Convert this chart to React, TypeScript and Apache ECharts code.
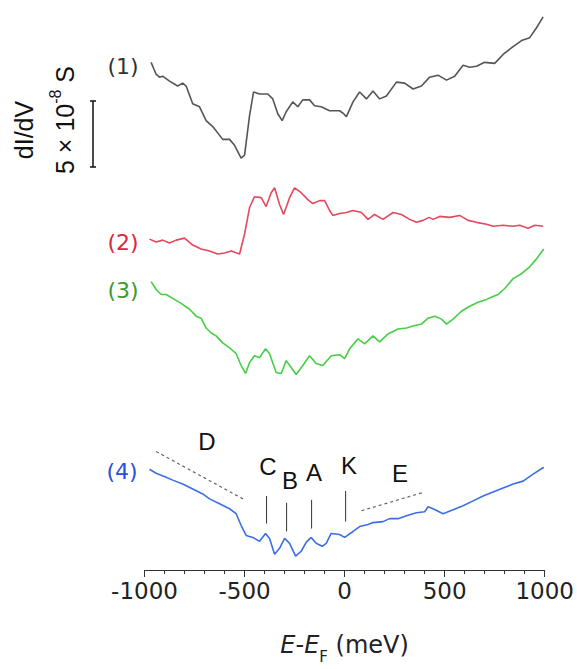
import React, { useEffect, useRef } from "react";
import * as echarts from "echarts";

// Energies (meV) and dI/dV (a.u., vertically offset for each spectrum)
const energy1 = [-967,-942,-925,-909,-875,-834,-809,-792,-759,-725,-692,-659,-609,-575,-550,-517,-500,-475,-455,-425,-384,-359,-334,-312,-292,-259,-234,-209,-175,-150,-117,-75,-25,-5,9,42,75,109,142,175,209,259,300,342,384,425,467,509,550,592,625,659,700,750,792,842,884,925,959,992];
const didv1 = [514,502,499,500,495,490,493,490,472,469,455,449,436,436,430,417,420,460,484,482,482,477,462,455,464,474,469,476,476,470,469,465,465,462,459,474,484,477,485,477,480,494,493,487,490,499,501,496,500,511,509,510,514,513,522,530,536,539,549,560];

const energy2 = [-975,-942,-909,-875,-842,-800,-759,-717,-675,-634,-600,-567,-525,-500,-475,-450,-417,-392,-367,-350,-325,-305,-275,-250,-217,-184,-159,-125,-100,-75,-59,-25,9,42,84,117,150,192,242,284,325,359,392,422,442,475,525,575,617,659,709,742,792,842,875,917,950,992];
const didv2 = [335,332,334,331,334,336,329,325,323,320,321,323,320,340,367,378,377,368,382,387,370,360,377,387,382,375,371,374,374,364,359,361,362,364,362,355,360,355,362,360,355,352,354,357,355,358,357,359,354,352,350,348,349,348,349,346,349,348];

const energy3 = [-967,-942,-917,-892,-859,-817,-775,-742,-717,-692,-667,-642,-609,-575,-542,-517,-495,-475,-450,-425,-395,-375,-342,-317,-292,-267,-242,-209,-175,-142,-109,-67,-25,0,25,67,100,142,175,217,267,309,342,384,417,450,484,509,542,584,625,667,709,742,767,800,842,884,925,959,995];
const didv3 = [292,284,279,279,275,270,264,257,255,245,240,237,230,225,219,207,199,210,217,215,224,219,200,199,212,205,198,207,217,209,207,217,218,214,224,234,229,237,231,239,244,245,247,249,255,257,254,249,254,262,267,271,274,277,279,285,295,300,307,315,325];

const energy4 = [-975,-942,-892,-859,-809,-759,-709,-675,-625,-575,-542,-517,-492,-459,-425,-395,-375,-350,-325,-300,-275,-245,-217,-192,-167,-142,-112,-92,-67,-25,0,42,75,117,142,192,225,267,309,359,400,417,442,492,542,592,642,692,742,792,842,892,942,995];
const didv4 = [102,98,94,91,87,82,77,72,67,62,57,45,35,33,29,37,32,16,22,32,27,14,19,28,33,27,24,27,37,36,33,39,44,46,48,49,52,52,55,58,59,64,62,57,61,65,70,75,79,83,87,90,97,104];

// Background slope guides D and E (dotted)
const guideD = [[-942, 120], [-508, 72]];
const guideE = [[84, 60], [400, 79]];

// Peak markers (energy, bottom, top)
const markerNames = ["C", "B", "A", "K"];
const markerEnergy = [-390, -290, -165, 5];
const markerBottom = [47, 39, 42, 49];
const markerTop = [75, 68, 71, 80];

const xTicks = [-1000, -500, 0, 500, 1000];

const curveColors = ["#555555", "#e5475d", "#45cf45", "#3b6fe2"];
const labelColors = ["#333333", "#d9283e", "#3e9a2c", "#2b4fd6"];

export default function App() {
  const ref = useRef<HTMLDivElement>(null);
  useEffect(() => {
    if (!ref.current) return;
    const chart = echarts.init(ref.current, undefined, { renderer: "svg" });
    const curves = [
      [energy1, didv1],
      [energy2, didv2],
      [energy3, didv3],
      [energy4, didv4],
    ];
    const series: any[] = curves.map(([e, v], k) => ({
      type: "line",
      data: e.map((x, i) => [x, v[i]]),
      showSymbol: false,
      lineStyle: { color: curveColors[k], width: 1.6 },
      silent: true,
    }));
    [guideD, guideE].forEach((g) =>
      series.push({
        type: "line",
        data: g,
        showSymbol: false,
        lineStyle: { color: "#666", width: 1.2, type: [3, 3] },
        silent: true,
      })
    );
    markerEnergy.forEach((e, i) =>
      series.push({
        type: "line",
        name: markerNames[i],
        data: [
          [e, markerBottom[i]],
          [e, markerTop[i]],
        ],
        showSymbol: false,
        lineStyle: { color: "#333", width: 1 },
        silent: true,
      })
    );
    const letterFont = { fontFamily: "Liberation Sans, Arial, sans-serif", fontSize: 24, fill: "#111" };
    const letters = [
      ["D", 207, 441],
      ["C", 268, 466],
      ["B", 290, 480],
      ["A", 314, 472],
      ["K", 349, 465],
      ["E", 400, 473],
    ];
    const curveLabels = [
      ["(1)", 123, 66],
      ["(2)", 123, 242],
      ["(3)", 123, 290],
      ["(4)", 122, 471],
    ];
    const font = "DejaVu Sans, sans-serif";
    chart.setOption({
      animation: false,
      grid: { left: 144.5, right: 32, top: 10, bottom: 92 },
      xAxis: {
        type: "value",
        min: -1000,
        max: 1000,
        interval: 500,
        axisLine: { lineStyle: { color: "#333", width: 1 } },
        axisTick: { show: true, length: 7, lineStyle: { color: "#333" } },
        minorTick: { show: true, splitNumber: 5, length: 4, lineStyle: { color: "#333" } },
        splitLine: { show: false },
        axisLabel: {
          margin: 9,
          fontSize: 23,
          fontFamily: font,
          color: "#222",
          formatter: (v: number) => (xTicks.includes(v) ? String(v) : ""),
        },
        name: "{i|E}{n|-}{i|E}{sub|F}{n| (meV)}",
        nameLocation: "middle",
        nameGap: 60,
        nameTextStyle: {
          rich: {
            i: { fontSize: 24, fontStyle: "italic", fontFamily: font, color: "#222", lineHeight: 30 },
            n: { fontSize: 24, fontFamily: font, color: "#222", lineHeight: 30 },
            sub: { fontSize: 15, fontFamily: font, color: "#222", verticalAlign: "bottom", lineHeight: 15, padding: [0, 0, -4, 0] },
          },
        },
      },
      yAxis: { type: "value", min: 0, max: 567, show: false },
      series,
      graphic: [
        ...curveLabels.map(([t, x, y], k) => ({
          type: "text",
          x,
          y,
          style: {
            text: t,
            fontFamily: font,
            fontSize: 22,
            fill: labelColors[k],
            align: "center",
            verticalAlign: "middle",
          },
        })),
        ...letters.map(([t, x, y]) => ({
          type: "text",
          x,
          y,
          style: { text: t, ...letterFont, align: "center", verticalAlign: "middle" },
        })),
        {
          type: "text",
          x: 24,
          y: 130,
          rotation: Math.PI / 2,
          style: {
            text: "dI/dV",
            fontFamily: "Liberation Sans, Arial, sans-serif",
            fontSize: 25,
            fill: "#111",
            align: "center",
            verticalAlign: "middle",
          },
        },
        {
          type: "text",
          x: 62,
          y: 120,
          rotation: Math.PI / 2,
          style: {
            text: "{n|5 × 10}{sup|-8}{n| S}",
            align: "center",
            verticalAlign: "middle",
            rich: {
              n: { fontFamily: "Liberation Sans, Arial, sans-serif", fontSize: 25, fill: "#111", lineHeight: 30, verticalAlign: "bottom" },
              sup: { fontFamily: "Liberation Sans, Arial, sans-serif", fontSize: 16, fill: "#111", lineHeight: 30, verticalAlign: "top" },
            },
          },
        },
        { type: "line", shape: { x1: 93, y1: 101, x2: 93, y2: 167 }, style: { stroke: "#111", lineWidth: 1.5 } },
        { type: "line", shape: { x1: 90, y1: 101, x2: 96, y2: 101 }, style: { stroke: "#111", lineWidth: 1.5 } },
        { type: "line", shape: { x1: 90, y1: 167, x2: 96, y2: 167 }, style: { stroke: "#111", lineWidth: 1.5 } },
      ],
    });
    return () => chart.dispose();
  }, []);
  return (
    <div
      ref={ref}
      style={{ position: "fixed", left: 0, top: 0, width: 577, height: 669, background: "#fff" }}
    />
  );
}
